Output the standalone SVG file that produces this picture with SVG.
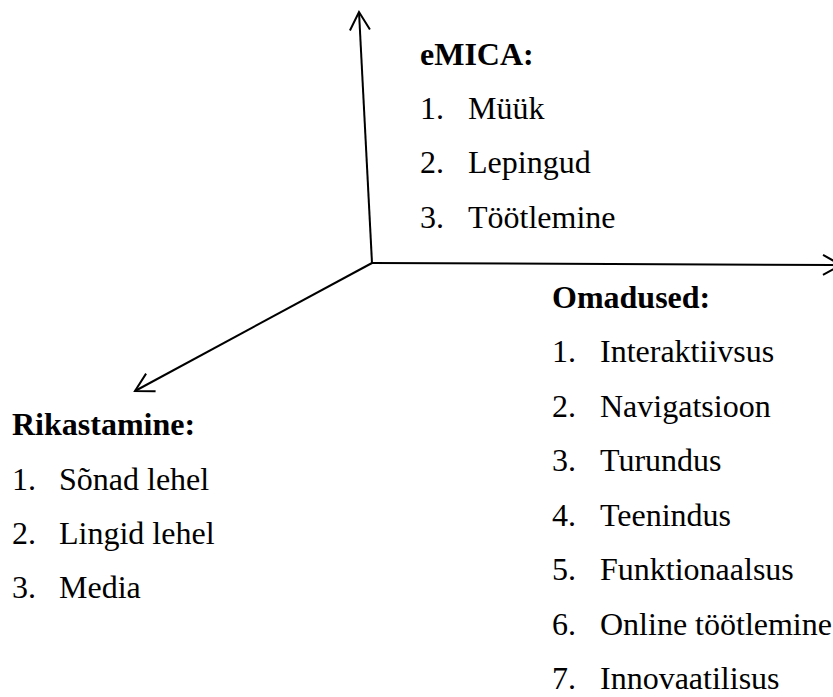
<svg xmlns="http://www.w3.org/2000/svg" width="833" height="697" viewBox="0 0 833 697">
<style>
.t{font-family:"Liberation Serif","Times New Roman",serif;font-size:32px;fill:#000}
.h{font-weight:bold}
.ax{stroke:#000;stroke-width:2;fill:none}
</style>
<defs>
<marker id="arr" markerUnits="userSpaceOnUse" markerWidth="24" markerHeight="24" refX="20" refY="12" orient="auto" overflow="visible">
<path d="M2,2 L20,12 L2,22" fill="none" stroke="#000" stroke-width="2"/>
</marker>
</defs>
<rect width="833" height="697" fill="#fff"/>
<g id="connectors">
<line class="ax" x1="372" y1="263" x2="359" y2="12" marker-end="url(#arr)"/>
<line class="ax" x1="372" y1="263" x2="841" y2="265" marker-end="url(#arr)"/>
<line class="ax" x1="372" y1="263" x2="135" y2="391" marker-end="url(#arr)"/>
</g>
<g id="emica">
<text class="t h" x="420" y="65">eMICA:</text>
<text class="t" x="420" y="119">1.</text><text class="t" x="468" y="119">Müük</text>
<text class="t" x="420" y="173">2.</text><text class="t" x="468" y="173">Lepingud</text>
<text class="t" x="420" y="228">3.</text><text class="t" x="468" y="228">Töötlemine</text>
</g>
<g id="omadused">
<text class="t h" x="552" y="308">Omadused:</text>
<text class="t" x="552" y="362">1.</text><text class="t" x="600" y="362">Interaktiivsus</text>
<text class="t" x="552" y="417">2.</text><text class="t" x="600" y="417">Navigatsioon</text>
<text class="t" x="552" y="471">3.</text><text class="t" x="600" y="471">Turundus</text>
<text class="t" x="552" y="526">4.</text><text class="t" x="600" y="526">Teenindus</text>
<text class="t" x="552" y="580">5.</text><text class="t" x="600" y="580">Funktionaalsus</text>
<text class="t" x="552" y="635">6.</text><text class="t" x="600" y="635">Online töötlemine</text>
<text class="t" x="552" y="689">7.</text><text class="t" x="600" y="689">Innovaatilisus</text>
</g>
<g id="rikastamine">
<text class="t h" x="12" y="435">Rikastamine:</text>
<text class="t" x="12" y="490">1.</text><text class="t" x="59" y="490">Sõnad lehel</text>
<text class="t" x="12" y="544">2.</text><text class="t" x="59" y="544">Lingid lehel</text>
<text class="t" x="12" y="598">3.</text><text class="t" x="59" y="598">Media</text>
</g>
</svg>
